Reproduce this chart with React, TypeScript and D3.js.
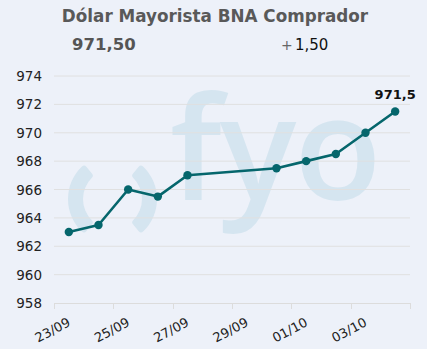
import * as d3 from "d3"
import React, { useRef, useEffect } from 'react';

// data
const dates = ["2024-09-23", "2024-09-24", "2024-09-25", "2024-09-26", "2024-09-27",
    "2024-09-30", "2024-10-01", "2024-10-02", "2024-10-03", "2024-10-04"];
const values = [963, 963.5, 966, 965.5, 967, 967.5, 968, 968.5, 970, 971.5];
const yTicks = [958, 960, 962, 964, 966, 968, 970, 972, 974];
const xTickDates = ["2024-09-23", "2024-09-25", "2024-09-27", "2024-09-29", "2024-10-01", "2024-10-03", "2024-10-05"];
const xTickLabels = ["23/09", "25/09", "27/09", "29/09", "01/10", "03/10", ""];

const title = "Dólar Mayorista BNA Comprador";
const lastValue = "971,50";
const change = "1,50";
const lastLabel = "971,5";

const font = "'DejaVu Sans', Verdana, sans-serif";

const App: React.FC = () => {
    const svgRef = useRef<SVGSVGElement | null>(null);

    useEffect(() => {
        const width = 430;
        const height = 351;
        const l = 54, r = 410, t = 76, b = 303;
        const parse = d3.utcParse("%Y-%m-%d");
        const noon = (s: string) => d3.utcHour.offset(parse(s)!, 12);

        const x = d3.scaleUtc()
            .domain([parse(xTickDates[0])!, parse(xTickDates[xTickDates.length - 1])!])
            .range([l, r]);
        const y = d3.scaleLinear().domain([958, 974]).range([b, t]);

        const svg = d3.select(svgRef.current)
            .attr('width', width)
            .attr('height', height);
        svg.selectAll('*').remove();

        // background
        svg.append('rect')
            .attr('width', 427).attr('height', 349)
            .attr('fill', '#edf1f9');

        // watermark
        const wm = svg.append('g').attr('fill', '#d5e5f0');
        const paren = d3.arc<any>().innerRadius(30).outerRadius(45).cornerRadius(3);
        wm.append('path')
            .attr('transform', 'translate(113,199)')
            .attr('d', paren({ startAngle: -2.45, endAngle: -0.69 }));
        wm.append('path')
            .attr('transform', 'translate(112,199)')
            .attr('d', paren({ startAngle: 0.69, endAngle: 2.45 }));
        wm.append('text')
            .attr('x', 170).attr('y', 200)
            .attr('font-family', "'Open Sans', sans-serif")
            .attr('font-size', 143)
            .attr('font-weight', 600)
            .attr('letter-spacing', -2)
            .text('fyo');

        // header
        svg.append('text')
            .attr('x', 215).attr('y', 22)
            .attr('text-anchor', 'middle')
            .attr('font-family', font).attr('font-weight', 'bold')
            .attr('font-size', 16.8).attr('fill', '#595959')
            .text(title);
        svg.append('text')
            .attr('x', 72).attr('y', 50)
            .attr('font-family', font).attr('font-weight', 'bold')
            .attr('font-size', 16.5).attr('fill', '#555')
            .text(lastValue);
        svg.append('text')
            .attr('x', 281).attr('y', 50)
            .attr('font-family', font)
            .attr('font-size', 14).attr('fill', '#666')
            .text('+');
        svg.append('text')
            .attr('x', 295).attr('y', 50)
            .attr('font-family', font)
            .attr('font-size', 15).attr('fill', '#111')
            .text(change);

        // grid + y labels
        svg.append('g').selectAll('line').data(yTicks.slice(1)).join('line')
            .attr('x1', l).attr('x2', r)
            .attr('y1', d => y(d)).attr('y2', d => y(d))
            .attr('stroke', '#e0e0e0').attr('stroke-width', 1);
        svg.append('g').selectAll('text').data(yTicks).join('text')
            .attr('x', 42).attr('y', d => y(d) + 5)
            .attr('text-anchor', 'end')
            .attr('font-family', font).attr('font-size', 13.5)
            .attr('fill', '#222')
            .text(d => d);

        // x axis
        svg.append('line')
            .attr('x1', l).attr('x2', r).attr('y1', b + 0.5).attr('y2', b + 0.5)
            .attr('stroke', '#dcdcdc');
        svg.append('g').selectAll('line').data(xTickDates).join('line')
            .attr('x1', d => Math.round(x(parse(d)!)) + 0.5)
            .attr('x2', d => Math.round(x(parse(d)!)) + 0.5)
            .attr('y1', b).attr('y2', b + 6)
            .attr('stroke', '#dcdcdc');
        svg.append('g').selectAll('text').data(xTickDates).join('text')
            .attr('transform', d => `translate(${x(parse(d)!) - 1.5},330) rotate(-28)`)
            .attr('text-anchor', 'middle')
            .attr('dy', '0.35em')
            .attr('font-family', font).attr('font-size', 13)
            .attr('fill', '#222')
            .text((d, i) => xTickLabels[i]);

        // line + markers
        const pts = dates.map((d, i) => ({ date: noon(d), value: values[i] }));
        const line = d3.line<{ date: Date; value: number }>()
            .x(d => x(d.date)).y(d => y(d.value));
        svg.append('path')
            .datum(pts)
            .attr('d', line)
            .attr('fill', 'none')
            .attr('stroke', '#05666c')
            .attr('stroke-width', 2.6)
            .attr('stroke-linejoin', 'round');
        svg.append('g').selectAll('circle').data(pts).join('circle')
            .attr('cx', d => x(d.date)).attr('cy', d => y(d.value))
            .attr('r', 4.2)
            .attr('fill', '#05666c');

        const last = pts[pts.length - 1];
        svg.append('text')
            .attr('x', x(last.date)).attr('y', y(last.value) - 12)
            .attr('text-anchor', 'middle')
            .attr('font-family', font).attr('font-weight', 'bold')
            .attr('font-size', 13).attr('fill', '#111')
            .text(lastLabel);
    }, []);

    return (
        <svg ref={svgRef} style={{ position: 'absolute', left: 0, top: 0 }}></svg>
    );
};

export default App;
